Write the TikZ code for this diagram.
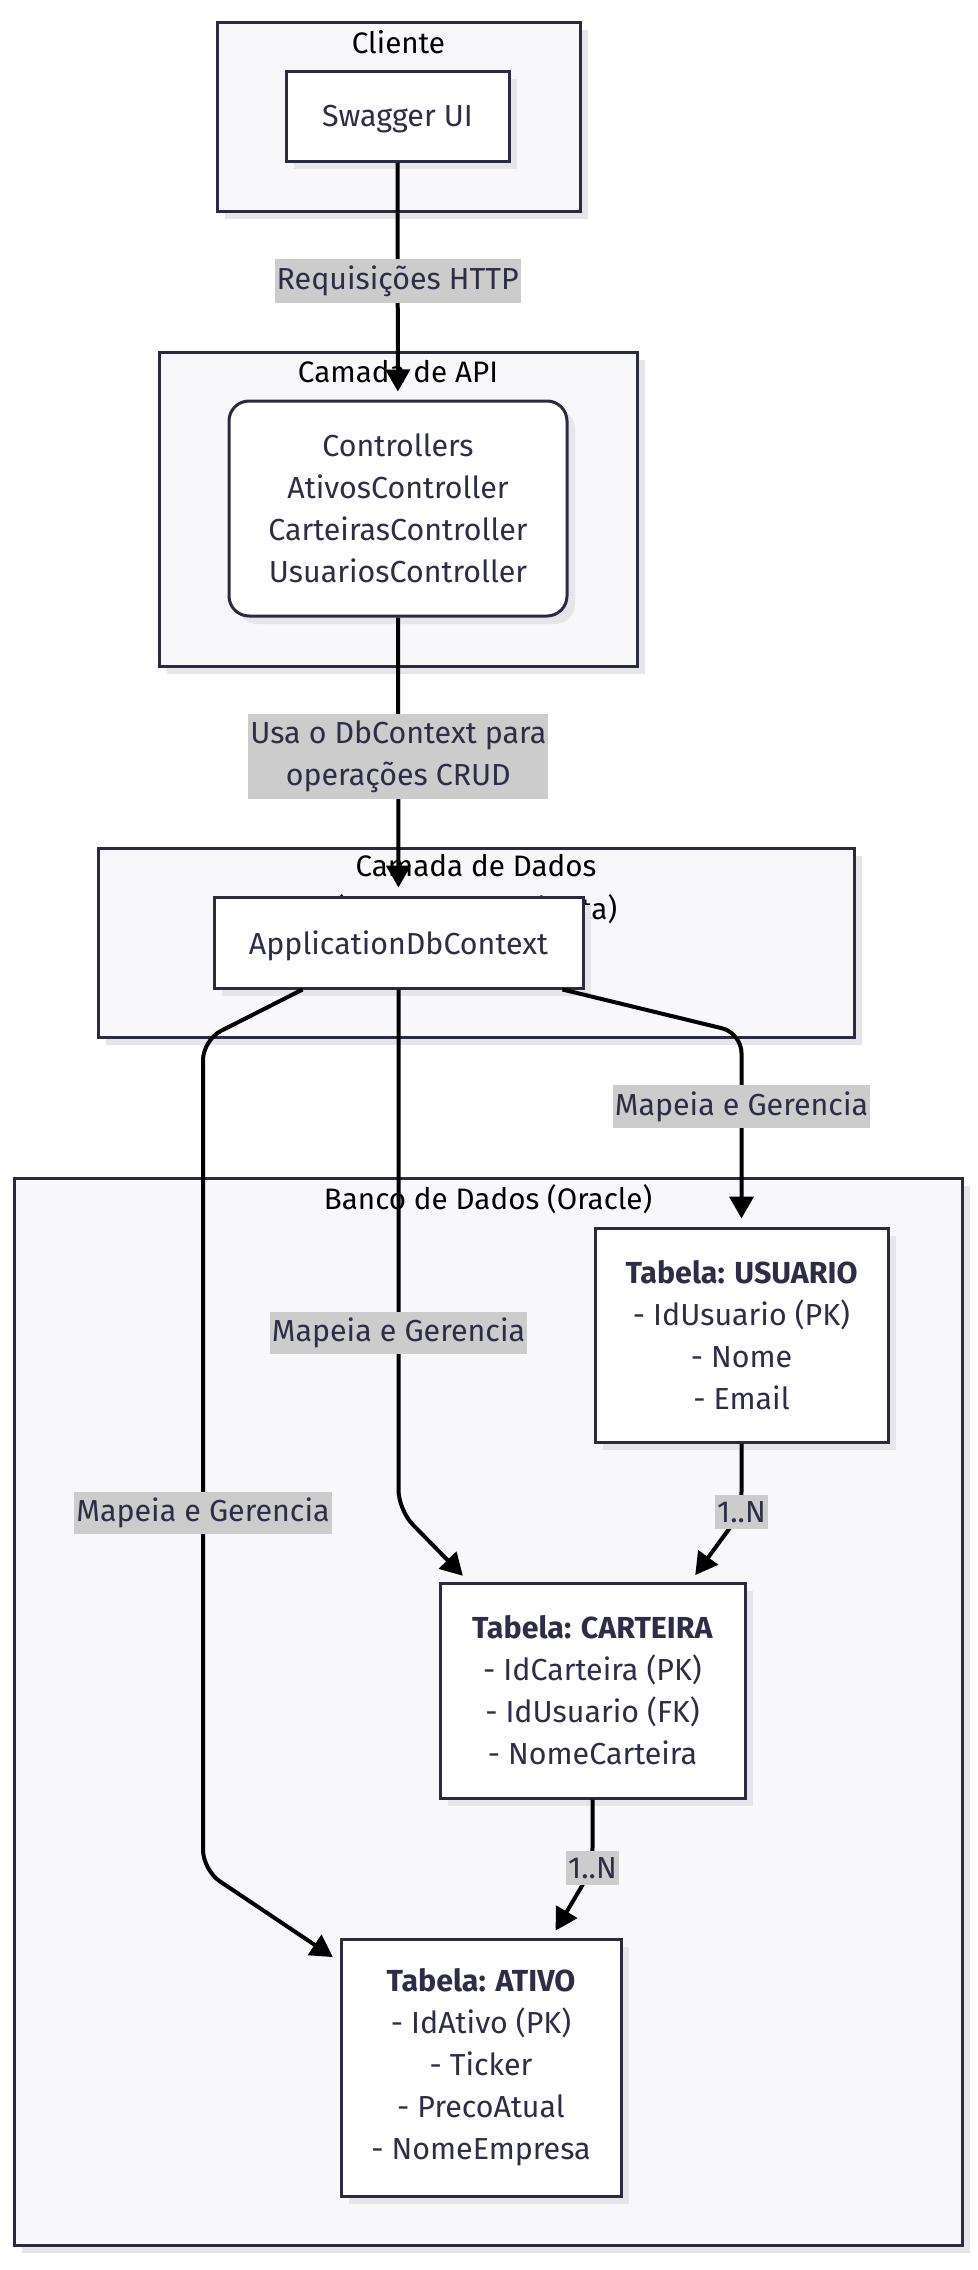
\documentclass[tikz,border=0pt]{standalone}
\usepackage{fontspec}
\setmainfont{Fira Sans}
\usetikzlibrary{arrows.meta,shadows}
\definecolor{ink}{RGB}{42,42,64}
\definecolor{txt}{RGB}{45,45,70}
\definecolor{grpfill}{RGB}{248,248,250}
\definecolor{shd}{RGB}{230,230,234}
\definecolor{lblbg}{RGB}{204,204,204}
\begin{document}
\begin{tikzpicture}[x=.5pt,y=-.5pt,font=\fontsize{15.2}{21}\selectfont,
  shdw/.style={drop shadow={shadow xshift=4pt,shadow yshift=-4pt,fill=shd,opacity=1}},
  grp/.style={draw=ink,line width=1.5pt,fill=grpfill,shdw},
  grptitle/.style={text=black,align=center,inner sep=0pt,font=\fontsize{14.8}{21.5}\selectfont},
  box/.style={draw=ink,line width=1.5pt,fill=white,text=txt,align=center,shdw},
  lbl/.style={sharp corners,fill=lblbg,text=txt,align=center,inner xsep=1pt,inner ysep=3pt},
  flow/.style={line width=2pt,rounded corners=10pt,shorten >=4pt,-{Triangle[length=11pt,width=12pt]}}]
 \useasboundingbox (0,0) rectangle (978,2270);
 \draw[grp] (217,22) rectangle (580,211);
 \draw[grp] (159,352) rectangle (637,666);
 \draw[grp] (98,848) rectangle (854,1037);
 \draw[grp] (14,1178) rectangle (962,2245);
 \node[grptitle] (tcli) at (398.5,42) {Cliente};
 \node[grptitle] (tapi) at (398,372) {Camada de API};
 \node[grptitle] (tdad) at (476,889.5) {Camada de Dados\\(Infraestrutura/Data)};
 \node[grptitle] (tbco) at (488,1199) {Banco de Dados (Oracle)};
 \node[box,text depth=0pt,minimum width=111.5pt,minimum height=45pt] (swg) at (397.5,116) {Swagger UI};
 \node[box,rounded corners=10pt,minimum width=169pt,minimum height=107.5pt] (ctl) at (398,508.5)
   {Controllers\\AtivosController\\CarteirasController\\UsuariosController};
 \node[box,text depth=0pt,minimum width=184.5pt,minimum height=45.5pt] (adb) at (398.5,942.5) {ApplicationDbContext};
 \node[box,minimum width=146.5pt,minimum height=107pt] (usr) at (741.5,1335)
   {\textbf{Tabela: USUARIO}\\- IdUsuario (PK)\\- Nome\\- Email};
 \node[box,minimum width=152.5pt,minimum height=107.5pt] (car) at (592.5,1690.5)
   {\textbf{Tabela: CARTEIRA}\\- IdCarteira (PK)\\- IdUsuario (FK)\\- NomeCarteira};
 \node[box,minimum width=140pt,minimum height=128.5pt] (atv) at (481,2067.5)
   {\textbf{Tabela: ATIVO}\\- IdAtivo (PK)\\- Ticker\\- PrecoAtual\\- NomeEmpresa};
 \draw[flow] (swg) -- node[lbl] {Requisições HTTP} (ctl);
 \draw[flow] (ctl) -- node[lbl] {Usa o DbContext para\\operações CRUD} (adb);
 \draw[flow] ([xshift=-11pt]adb.south east) -- (usr.north |- 0,1033)
   -- node[lbl,pos=.38] {Mapeia e Gerencia} (usr.north);
 \draw[flow] (adb.south) -- node[lbl,pos=.66] {Mapeia e Gerencia} (adb.south |- 0,1510)
   -- ([xshift=15pt]car.north west);
 \draw[flow] ([xshift=45pt]adb.south west) -- (203,1040)
   -- node[lbl,pos=.57] {Mapeia e Gerencia} (203,1870) -- ([yshift=-12pt]atv.north west);
 \draw[flow] (usr.south) -- node[lbl,pos=1] {1..N} (usr.south |- 0,1512)
   -- ([xshift=-28pt]car.north east);
 \draw[flow] (car.south) -- node[lbl,pos=1] {1..N} (car.south |- 0,1868)
   -- ([xshift=-35.5pt]atv.north east);
\end{tikzpicture}
\end{document}
